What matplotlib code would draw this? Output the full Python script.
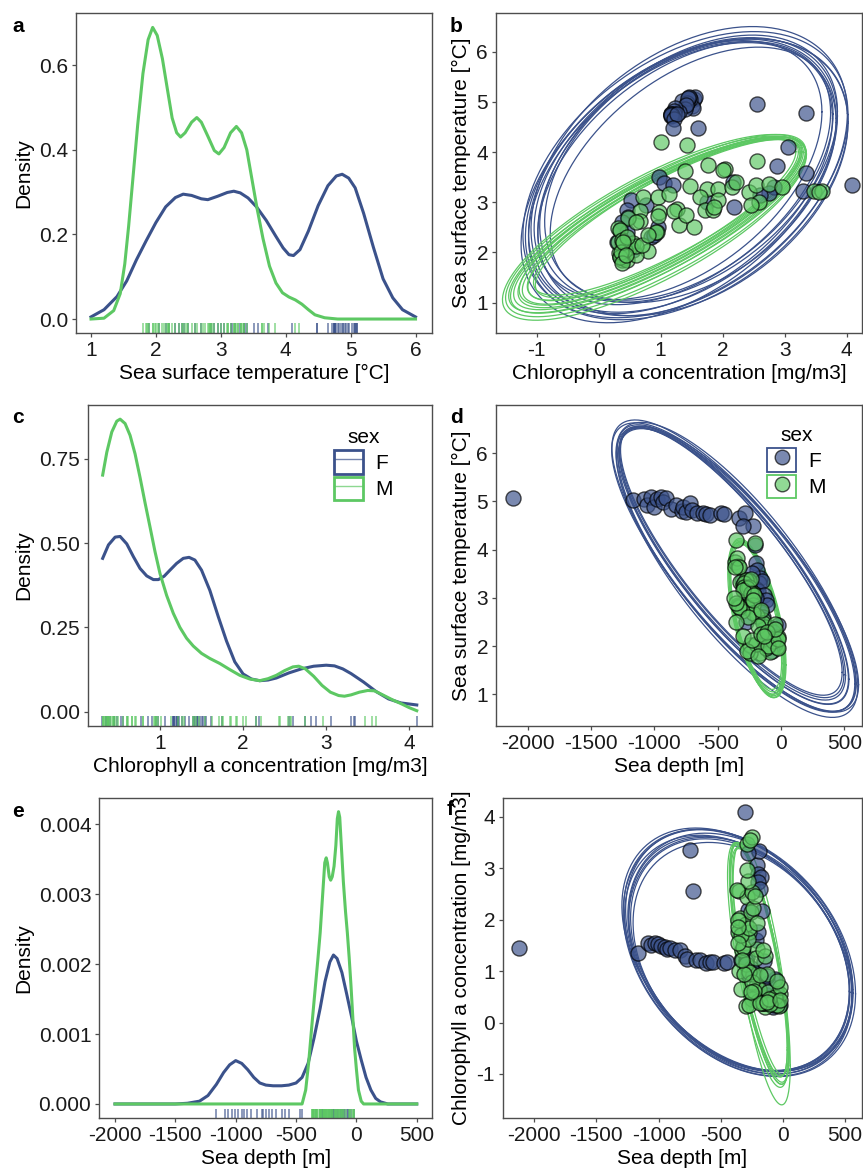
import numpy as np
import matplotlib
matplotlib.use('Agg')
import matplotlib.pyplot as plt
from matplotlib.patches import Rectangle
from matplotlib.lines import Line2D

plt.rcParams['font.family'] = ['Liberation Sans', 'DejaVu Sans']
plt.rcParams['font.size'] = 15
plt.rcParams['axes.unicode_minus'] = False

BLUE = '#3B528B'
GREEN = '#5DC863'

# ---- individuals: sea surface temperature, chlorophyll a, sea depth ----
f_sst = [5.07, 5.02, 5.06, 4.92, 5.10, 4.88, 5.05, 5.10, 4.98, 5.08, 4.85, 4.93, 4.80, 4.88,
         4.78, 4.96, 4.82, 4.75, 4.76, 4.74, 4.72, 4.76, 4.74, 4.65, 4.76, 4.48, 4.48,
         4.10, 3.72, 3.58, 3.35, 3.22, 3.41, 3.30, 3.18, 3.15, 3.51, 3.38, 3.35, 3.05, 2.95,
         2.85, 2.70, 2.60, 2.44, 2.40, 2.30, 2.20, 2.15, 2.05, 1.90, 2.35, 2.90, 3.00, 2.50]
f_chl = [1.45, 1.35, 1.54, 1.50, 1.55, 1.52, 1.48, 1.46, 1.42, 1.44, 1.40, 1.41, 1.30, 1.23,
         3.35, 2.55, 1.22, 1.21, 1.16, 1.18, 1.17, 1.16, 1.17, 1.22, 1.27, 1.61, 1.20,
         3.06, 2.88, 3.34, 4.09, 3.30, 2.16, 2.82, 2.74, 2.60, 0.98, 1.06, 1.20, 0.53, 0.77,
         0.45, 0.48, 0.38, 0.35, 0.45, 0.85, 0.30, 0.40, 0.55, 0.35, 0.90, 2.19, 1.75, 0.95]
f_depth = [-2120, -1165, -1085, -1060, -1030, -1005, -980, -950, -930, -905, -870, -825, -785, -770,
           -750, -720, -700, -665, -615, -590, -560, -470, -450, -335, -285, -218, -297,
           -205, -200, -190, -305, -280, -165, -175, -200, -185, -230, -260, -150, -130, -120,
           -110, -160, -140, -20, -95, -60, -80, -100, -45, -70, -125, -278, -197, -278]

m_sst = [4.21, 4.14, 3.74, 3.66, 3.83, 3.63, 3.32, 3.26, 3.26, 3.31, 3.10, 2.85, 2.84, 3.21,
         3.35, 3.36, 3.31, 3.23, 3.22, 3.20, 3.11, 3.11, 3.16, 2.86, 2.81, 2.83, 2.55, 2.40,
         2.63, 2.69, 2.48, 2.18, 2.18, 2.03, 1.86, 1.88, 1.99, 1.85, 1.95, 2.10, 2.05, 2.20,
         1.90, 2.12, 2.41, 2.72, 2.82, 3.64, 2.45, 2.25, 2.00, 1.80, 2.15, 2.60, 2.30, 3.40,
         3.05, 2.90, 3.00, 2.95, 2.50, 2.75, 2.35, 2.20, 1.95]
m_chl = [1.01, 1.43, 1.76, 2.03, 2.56, 1.40, 1.47, 1.75, 1.92, 2.15, 1.63, 1.71, 1.84, 2.43,
         2.54, 2.75, 2.96, 3.47, 3.60, 3.55, 0.71, 0.95, 1.13, 1.26, 0.98, 0.66, 1.29, 0.94,
         0.66, 0.47, 0.31, 0.37, 0.55, 0.79, 0.37, 0.40, 0.33, 0.45, 0.60, 0.50, 0.42, 0.32,
         0.34, 0.61, 0.93, 0.95, 1.22, 2.00, 0.35, 0.38, 0.36, 0.38, 0.70, 0.60, 0.45, 2.22,
         1.93, 1.86, 2.58, 2.45, 1.54, 1.41, 0.80, 0.40, 0.44]
m_depth = [-355, -205, -364, -342, -350, -330, -324, -271, -300, -260, -280, -337, -271, -290,
           -250, -278, -291, -291, -251, -265, -218, -240, -300, -218, -270, -335, -140, -127,
           -192, -224, -140, -140, -21, -245, -166, -87, -34, -245, -120, -60, -200, -300,
           -270, -230, -180, -310, -330, -360, -50, -160, -100, -180, -25, -260, -110, -238,
           -211, -358, -371, -224, -358, -158, -50, -130, -23]

# ---- density curves ----
sst_x_f = [1.0, 1.2, 1.4, 1.55, 1.7, 1.85, 2.0, 2.15, 2.3, 2.42, 2.55, 2.7, 2.8, 2.95, 3.1, 3.2, 3.3,
           3.42, 3.55, 3.7, 3.85, 3.96, 4.05, 4.12, 4.22, 4.35, 4.5, 4.65, 4.78, 4.87, 4.97, 5.07,
           5.2, 5.35, 5.5, 5.65, 5.8, 6.0]
sst_d_f = [0.005, 0.022, 0.053, 0.09, 0.14, 0.185, 0.228, 0.265, 0.287, 0.295, 0.292, 0.284, 0.282,
           0.29, 0.299, 0.302, 0.298, 0.286, 0.265, 0.233, 0.195, 0.168, 0.152, 0.150, 0.164, 0.208,
           0.268, 0.315, 0.338, 0.342, 0.333, 0.31, 0.25, 0.17, 0.095, 0.05, 0.022, 0.005]
sst_x_m = [1.0, 1.2, 1.35, 1.45, 1.52, 1.58, 1.65, 1.72, 1.8, 1.88, 1.95, 2.02, 2.1, 2.18, 2.25, 2.32,
           2.38, 2.45, 2.55, 2.63, 2.7, 2.8, 2.9, 2.97, 3.05, 3.15, 3.24, 3.32, 3.4, 3.48, 3.56, 3.65,
           3.75, 3.85, 3.95, 4.05, 4.15, 4.25, 4.35, 4.45, 4.6, 4.8, 6.0]
sst_d_m = [0.0, 0.002, 0.02, 0.06, 0.13, 0.22, 0.34, 0.46, 0.58, 0.66, 0.689, 0.67, 0.615, 0.54,
           0.475, 0.44, 0.43, 0.44, 0.465, 0.476, 0.465, 0.432, 0.398, 0.39, 0.405, 0.44, 0.455,
           0.44, 0.40, 0.33, 0.26, 0.19, 0.125, 0.085, 0.062, 0.052, 0.045, 0.035, 0.022, 0.01,
           0.003, 0.0, 0.0]

chl_x_f = [0.31, 0.38, 0.46, 0.52, 0.6, 0.68, 0.76, 0.84, 0.92, 0.98, 1.05, 1.12, 1.2, 1.28, 1.35,
           1.42, 1.5, 1.6, 1.7, 1.8, 1.9, 2.0, 2.1, 2.2, 2.3, 2.4, 2.55, 2.7, 2.85, 3.0, 3.1, 3.2,
           3.3, 3.45, 3.6, 3.75, 3.9, 4.09]
chl_d_f = [0.455, 0.495, 0.518, 0.52, 0.498, 0.46, 0.425, 0.403, 0.392, 0.392, 0.402, 0.42, 0.44,
           0.455, 0.458, 0.45, 0.42, 0.36, 0.283, 0.21, 0.148, 0.112, 0.097, 0.092, 0.094, 0.1,
           0.115, 0.127, 0.135, 0.138, 0.136, 0.127, 0.113, 0.088, 0.06, 0.038, 0.026, 0.02]
chl_x_m = [0.31, 0.36, 0.42, 0.48, 0.52, 0.58, 0.64, 0.7, 0.76, 0.82, 0.88, 0.94, 1.0, 1.08, 1.16,
           1.24, 1.32, 1.4, 1.5, 1.6, 1.72, 1.84, 1.96, 2.08, 2.2, 2.3, 2.4, 2.5, 2.6, 2.67, 2.75,
           2.85, 2.95, 3.05, 3.15, 3.22, 3.3, 3.4, 3.5, 3.58, 3.68, 3.8, 3.9, 4.0, 4.09]
chl_d_m = [0.702, 0.77, 0.83, 0.862, 0.868, 0.855, 0.82, 0.765, 0.695, 0.62, 0.548, 0.475, 0.41,
           0.345, 0.292, 0.25, 0.218, 0.195, 0.173, 0.158, 0.143, 0.125, 0.108, 0.097, 0.092,
           0.098, 0.108, 0.122, 0.133, 0.135, 0.127, 0.105, 0.078, 0.058, 0.048, 0.046, 0.05,
           0.058, 0.063, 0.062, 0.05, 0.035, 0.024, 0.012, 0.003]

dep_x_f = [-2000, -1500, -1400, -1300, -1230, -1160, -1100, -1050, -1000, -950, -900, -850, -800,
           -750, -690, -620, -560, -500, -450, -400, -350, -300, -260, -220, -190, -160, -120,
           -80, -40, 0, 40, 80, 120, 160, 200, 260, 500]
dep_d_f = [0, 0, 0.00001, 0.00004, 0.00012, 0.00028, 0.00045, 0.00056, 0.00062, 0.00058, 0.00049,
           0.00038, 0.0003, 0.00027, 0.00026, 0.00026, 0.00027, 0.0003, 0.00038, 0.00058, 0.00095,
           0.00137, 0.00175, 0.00203, 0.00213, 0.00208, 0.00188, 0.00157, 0.00125, 0.0009,
           0.00063, 0.00038, 0.0002, 0.00008, 0.00003, 0.0, 0.0]
dep_x_m = [-2000, -450, -420, -395, -370, -345, -320, -300, -280, -262, -250, -240, -225, -213,
           -200, -185, -170, -158, -148, -138, -125, -108, -90, -75, -60, -45, -30, -15, 0, 17,
           40, 60, 500]
dep_d_m = [0, 0, 0.0002, 0.0006, 0.0011, 0.00158, 0.00205, 0.00245, 0.00298, 0.00345, 0.00352,
           0.00345, 0.00325, 0.0032, 0.00325, 0.0034, 0.0037, 0.00408, 0.00418, 0.0041, 0.0037,
           0.00318, 0.00275, 0.00245, 0.0021, 0.0017, 0.00125, 0.0008, 0.0005, 0.0002, 0.00004,
           0.0, 0.0]

# ---- bootstrap ellipses: centre, half-extents along x and y, correlation ----
b_f = dict(cx=[1.40, 1.32, 1.46, 1.38, 1.52, 1.28, 1.42, 1.50, 1.35, 1.45, 1.30, 1.48],
           cy=[3.55, 3.48, 3.62, 3.58, 3.50, 3.64, 3.46, 3.57, 3.53, 3.67, 3.44, 3.60],
           rx=[2.62, 2.45, 2.55, 2.36, 2.50, 2.32, 2.60, 2.28, 2.48, 2.40, 2.55, 2.35],
           ry=[2.85, 2.70, 2.88, 2.62, 2.76, 2.58, 2.80, 2.52, 2.72, 2.66, 2.84, 2.60],
           r=[0.42, 0.44, 0.40, 0.46, 0.39, 0.45, 0.41, 0.47, 0.42, 0.43, 0.45, 0.38])
b_m = dict(cx=[1.00, 1.05, 0.95, 1.10, 0.98, 1.02, 0.90, 1.08, 1.00, 0.96, 1.04, 0.92],
           cy=[2.60, 2.65, 2.55, 2.70, 2.58, 2.62, 2.50, 2.68, 2.63, 2.57, 2.66, 2.52],
           rx=[2.30, 2.20, 2.40, 2.15, 2.35, 2.25, 2.45, 2.10, 2.28, 2.38, 2.18, 2.42],
           ry=[1.70, 1.60, 1.75, 1.55, 1.72, 1.65, 1.85, 1.58, 1.68, 1.78, 1.62, 1.80],
           r=[0.82, 0.83, 0.81, 0.84, 0.82, 0.83, 0.78, 0.84, 0.82, 0.81, 0.83, 0.79])
d_f = dict(cx=[-370, -385, -355, -392, -348, -378, -362, -388, -352, -372],
           cy=[3.67, 3.72, 3.60, 3.76, 3.58, 3.69, 3.63, 3.73, 3.57, 3.66],
           rx=[965, 895, 945, 875, 955, 915, 975, 885, 935, 905],
           ry=[3.02, 2.84, 2.96, 2.78, 3.06, 2.90, 3.00, 2.80, 2.94, 2.86],
           r=[-0.81, -0.82, -0.80, -0.83, -0.79, -0.82, -0.81, -0.83, -0.80, -0.82])
d_m = dict(cx=[-190, -195, -185, -200, -180, -192, -188, -198],
           cy=[2.57, 2.60, 2.55, 2.62, 2.52, 2.58, 2.56, 2.60],
           rx=[220, 210, 225, 205, 215, 218, 212, 222],
           ry=[1.60, 1.55, 1.62, 1.52, 1.58, 1.65, 1.56, 1.60],
           r=[-0.60, -0.62, -0.58, -0.63, -0.59, -0.61, -0.60, -0.57])
f_f = dict(cx=[-350, -340, -360, -345, -355, -335, -365, -350, -342, -358],
           cy=[1.35, 1.30, 1.40, 1.32, 1.38, 1.28, 1.42, 1.34, 1.36, 1.30],
           rx=[935, 900, 920, 880, 910, 870, 930, 890, 905, 915],
           ry=[2.40, 2.30, 2.35, 2.25, 2.38, 2.22, 2.36, 2.28, 2.32, 2.34],
           r=[-0.33, -0.31, -0.35, -0.32, -0.34, -0.30, -0.36, -0.33, -0.31, -0.34])
f_m = dict(cx=[-190, -195, -185, -180, -200, -188, -192, -170],
           cy=[1.15, 1.20, 1.10, 1.18, 1.12, 1.16, 1.22, 0.95],
           rx=[240, 230, 235, 225, 245, 238, 228, 230],
           ry=[2.35, 2.25, 2.30, 2.20, 2.38, 2.32, 2.28, 2.55],
           r=[-0.75, -0.77, -0.74, -0.78, -0.73, -0.76, -0.75, -0.70])

W, H = 863, 1172
fig = plt.figure(figsize=(W / 100, H / 100), dpi=100)


def add_ax(l, r, t, b):
    return fig.add_axes([l / W, 1 - b / H, (r - l) / W, (b - t) / H])


def style(ax):
    for s in ax.spines.values():
        s.set_color('#4d4d4d')
        s.set_linewidth(1.0)
    ax.tick_params(direction='out', length=3, width=0.9, color='#4d4d4d', pad=2.5,
                   labelcolor='#1a1a1a')


def rug(ax, vals, color):
    ax.vlines(vals, 0, 0.03, transform=ax.get_xaxis_transform(), colors=color, lw=1.1, alpha=0.75)


def ellipses(ax, e, color):
    t = np.linspace(0, 2 * np.pi, 240)
    for cx, cy, rx, ry, r in zip(e['cx'], e['cy'], e['rx'], e['ry'], e['r']):
        x = cx + rx * np.cos(t)
        y = cy + ry * (r * np.cos(t) + np.sqrt(1 - r ** 2) * np.sin(t))
        ax.plot(x, y, color=color, lw=0.9)


def points(ax, x, y, color):
    ax.scatter(x, y, s=118, facecolor=color, edgecolor='black', linewidths=1.0, alpha=0.68, zorder=3)


# a
ax = add_ax(75.7, 432, 13, 333)
ax.plot(sst_x_f, sst_d_f, color=BLUE, lw=2.2)
ax.plot(sst_x_m, sst_d_m, color=GREEN, lw=2.2)
rug(ax, f_sst, BLUE)
rug(ax, m_sst, GREEN)
ax.set_xlim(0.764, 6.254)
ax.set_ylim(-0.033, 0.723)
ax.set_xticks([1, 2, 3, 4, 5, 6])
ax.set_yticks([0.0, 0.2, 0.4, 0.6])
ax.set_yticklabels(['0.0', '0.2', '0.4', '0.6'])
ax.set_xlabel('Sea surface temperature [°C]', labelpad=3)
ax.set_ylabel('Density', labelpad=4)
style(ax)

# b
ax = add_ax(495.7, 862, 13, 333)
ellipses(ax, b_f, BLUE)
ellipses(ax, b_m, GREEN)
points(ax, f_chl, f_sst, BLUE)
points(ax, m_chl, m_sst, GREEN)
ax.set_xlim(-1.659, 4.246)
ax.set_ylim(0.396, 6.77)
ax.set_xticks([-1, 0, 1, 2, 3, 4])
ax.set_yticks([1, 2, 3, 4, 5, 6])
ax.set_xlabel('Chlorophyll a concentration [mg/m3]', labelpad=3)
ax.set_ylabel('Sea surface temperature [°C]', labelpad=4)
style(ax)

# c
ax = add_ax(87.7, 432.3, 405, 726)
ax.plot(chl_x_f, chl_d_f, color=BLUE, lw=2.2)
ax.plot(chl_x_m, chl_d_m, color=GREEN, lw=2.2)
rug(ax, f_chl, BLUE)
rug(ax, m_chl, GREEN)
ax.set_xlim(0.130, 4.277)
ax.set_ylim(-0.0424, 0.910)
ax.set_xticks([1, 2, 3, 4])
ax.set_yticks([0.0, 0.25, 0.5, 0.75])
ax.set_yticklabels(['0.00', '0.25', '0.50', '0.75'])
ax.set_xlabel('Chlorophyll a concentration [mg/m3]', labelpad=3)
ax.set_ylabel('Density', labelpad=4)
style(ax)
hc = []
for col in (BLUE, GREEN):
    hc.append((Rectangle((0, 0), 1, 1, facecolor='white', edgecolor=col, lw=2.0),
               Line2D([], [], color=col, lw=1.0, alpha=0.7)))
ax.legend(hc, ['F', 'M'], title='sex', loc='upper left',
          bbox_to_anchor=(334 / W, 1 - 428 / H), bbox_transform=fig.transFigure,
          frameon=False, handlelength=1.4, handleheight=1.35, labelspacing=0.15,
          handletextpad=0.6, borderpad=0, borderaxespad=0, fontsize=15, title_fontsize=15)

# d
ax = add_ax(495.7, 862, 405, 726)
ellipses(ax, d_f, BLUE)
ellipses(ax, d_m, GREEN)
points(ax, f_depth, f_sst, BLUE)
points(ax, m_depth, m_sst, GREEN)
ax.set_xlim(-2252.7, 640)
ax.set_ylim(0.342, 7.0)
ax.set_xticks([-2000, -1500, -1000, -500, 0, 500])
ax.set_yticks([1, 2, 3, 4, 5, 6])
ax.set_xlabel('Sea depth [m]', labelpad=3)
ax.set_ylabel('Sea surface temperature [°C]', labelpad=4)
style(ax)
hd = []
for col in (BLUE, GREEN):
    hd.append((Rectangle((0, 0), 1, 1, facecolor='white', edgecolor=col, lw=1.3),
               Line2D([], [], ls='none', marker='o', markersize=10.5, markerfacecolor=col,
                      markeredgecolor='black', alpha=0.68)))
ax.legend(hd, ['F', 'M'], title='sex', loc='upper left',
          bbox_to_anchor=(767 / W, 1 - 426 / H), bbox_transform=fig.transFigure,
          frameon=False, handlelength=1.4, handleheight=1.35, labelspacing=0.15,
          handletextpad=0.6, borderpad=0, borderaxespad=0, fontsize=15, title_fontsize=15)

# e
ax = add_ax(99, 432.3, 797.7, 1118.3)
ax.plot(dep_x_f, dep_d_f, color=BLUE, lw=2.2)
ax.plot(dep_x_m, dep_d_m, color=GREEN, lw=2.2)
rug(ax, [v for v in f_depth if v >= -2000], BLUE)
rug(ax, [v for v in m_depth if v >= -2000], GREEN)
ax.set_xlim(-2132.6, 629)
ax.set_ylim(-0.000205, 0.00438)
ax.set_xticks([-2000, -1500, -1000, -500, 0, 500])
ax.set_yticks([0, 0.001, 0.002, 0.003, 0.004])
ax.set_yticklabels(['0.000', '0.001', '0.002', '0.003', '0.004'])
ax.set_xlabel('Sea depth [m]', labelpad=3)
ax.set_ylabel('Density', labelpad=4)
style(ax)

# f
ax = add_ax(502.7, 862, 797.7, 1118.3)
ellipses(ax, f_f, BLUE)
ellipses(ax, f_m, GREEN)
points(ax, f_depth, f_chl, BLUE)
points(ax, m_depth, m_chl, GREEN)
ax.set_xlim(-2254, 637)
ax.set_ylim(-1.861, 4.369)
ax.set_xticks([-2000, -1500, -1000, -500, 0, 500])
ax.set_yticks([-1, 0, 1, 2, 3, 4])
ax.set_xlabel('Sea depth [m]', labelpad=3)
ax.set_ylabel('Chlorophyll a concentration [mg/m3]', labelpad=4)
style(ax)

# panel letters
for lab, x, y in [('a', 12, 32), ('b', 450, 32), ('c', 12, 423), ('d', 450, 423),
                  ('e', 12, 817), ('f', 447, 815)]:
    fig.text(x / W, 1 - y / H, lab, fontsize=15, fontweight='bold', va='baseline', ha='left')

fig.savefig('out.png', dpi=100)
